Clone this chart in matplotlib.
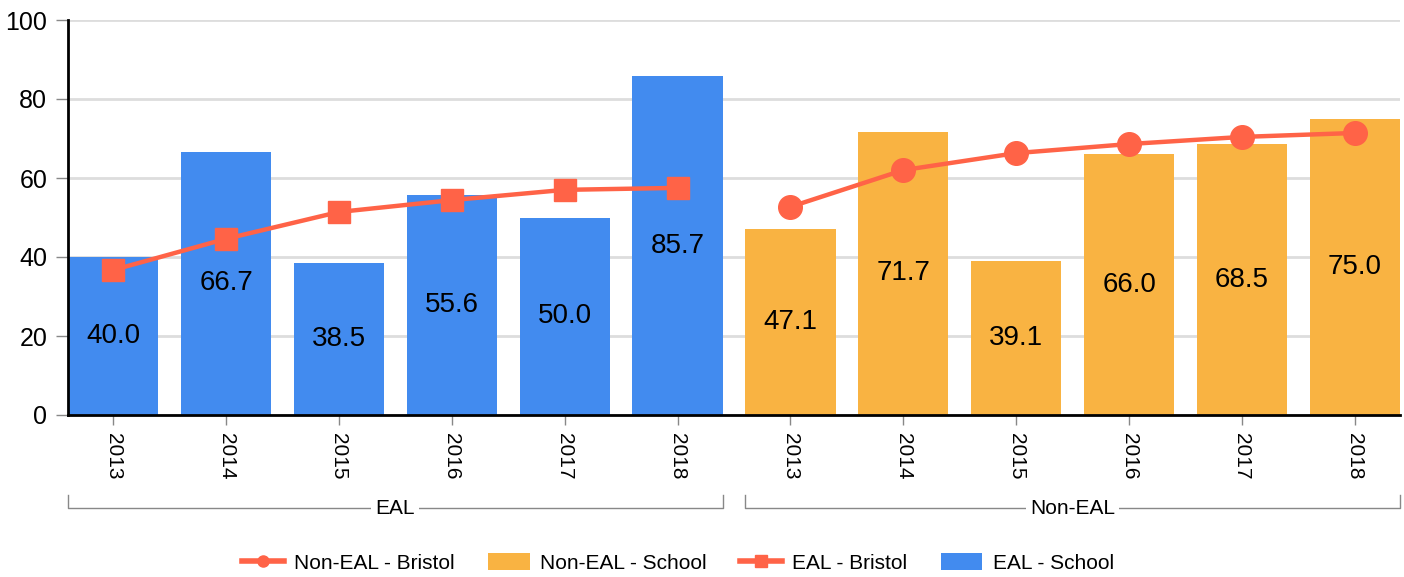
import numpy as np
import matplotlib.pyplot as plt
from matplotlib.lines import Line2D
from matplotlib.patches import Patch

plt.rcParams['font.family'] = ['Liberation Sans', 'DejaVu Sans']

years = ['2013', '2014', '2015', '2016', '2017', '2018']
groups = ['EAL', 'Non-EAL']
eal_school = [40.0, 66.7, 38.5, 55.6, 50.0, 85.7]
noneal_school = [47.1, 71.7, 39.1, 66.0, 68.5, 75.0]
eal_bristol = [36.7, 44.6, 51.4, 54.4, 57.0, 57.5]
noneal_bristol = [52.7, 62.0, 66.3, 68.6, 70.4, 71.4]

blue = '#428BEF'
orange = '#F9B342'
red = '#FF6347'

fig = plt.figure(figsize=(14.04, 5.77), dpi=100)
ax = fig.add_axes([68/1404, 1-415/577, 1332/1404, 395/577])

n = len(years)
x1 = np.arange(n)
x2 = np.arange(n, 2*n)
w = 0.8

ax.bar(x1, eal_school, width=w, color=blue, zorder=2)
ax.bar(x2, noneal_school, width=w, color=orange, zorder=2)
ax.plot(x1, eal_bristol, color=red, lw=3.2, marker='s', ms=16, zorder=3)
ax.plot(x2, noneal_bristol, color=red, lw=3.2, marker='o', ms=17, zorder=3)

for xs, vals in ((x1, eal_school), (x2, noneal_school)):
    for xi, v in zip(xs, vals):
        ax.text(xi, v/2, f'{v:.1f}', ha='center', va='center', fontsize=20, zorder=4)

ax.set_xlim(-0.4, 2*n - 0.6)
ax.set_ylim(0, 100)
ax.set_yticks([0, 20, 40, 60, 80, 100])
ax.yaxis.grid(True, color='#DDDDDD', lw=2, zorder=0)
ax.set_axisbelow(True)
ax.tick_params(axis='y', labelsize=18, length=9, color='#888888', width=1, pad=6)
ax.set_xticks(np.arange(2*n))
ax.set_xticklabels(years + years, rotation=-90, fontsize=15)
ax.tick_params(axis='x', length=7, color='#888888', width=1, pad=6)
for s in ('top', 'right'):
    ax.spines[s].set_visible(False)
ax.spines['left'].set_linewidth(2)
ax.spines['bottom'].set_linewidth(2)

# group brackets under the year labels
tr = ax.get_xaxis_transform()
y_top = (415-495)/395
y_bot = (415-508)/395
for g, (a, b) in zip(groups, ((-0.4, n - 0.6), (n - 0.4, 2*n - 0.6))):
    ax.plot([a, a, b, b], [y_top, y_bot, y_bot, y_top], color='#888888', lw=1,
            transform=tr, clip_on=False)
    ax.text((a+b)/2, y_bot, g, transform=tr, ha='center', va='center', fontsize=15,
            bbox=dict(facecolor='white', edgecolor='none', pad=3))

handles = [
    Line2D([], [], color=red, lw=4, marker='o', ms=8),
    Patch(facecolor=orange),
    Line2D([], [], color=red, lw=4, marker='s', ms=8),
    Patch(facecolor=blue),
]
labels = ['Non-EAL - Bristol', 'Non-EAL - School', 'EAL - Bristol', 'EAL - School']
fig.legend(handles, labels, loc='center', bbox_to_anchor=(678/1404, 1-563/577), ncol=4,
           frameon=False, fontsize=15, handlelength=2.0, handleheight=0.9,
           handletextpad=0.5, columnspacing=1.6)

fig.savefig('out.png', dpi=100)
